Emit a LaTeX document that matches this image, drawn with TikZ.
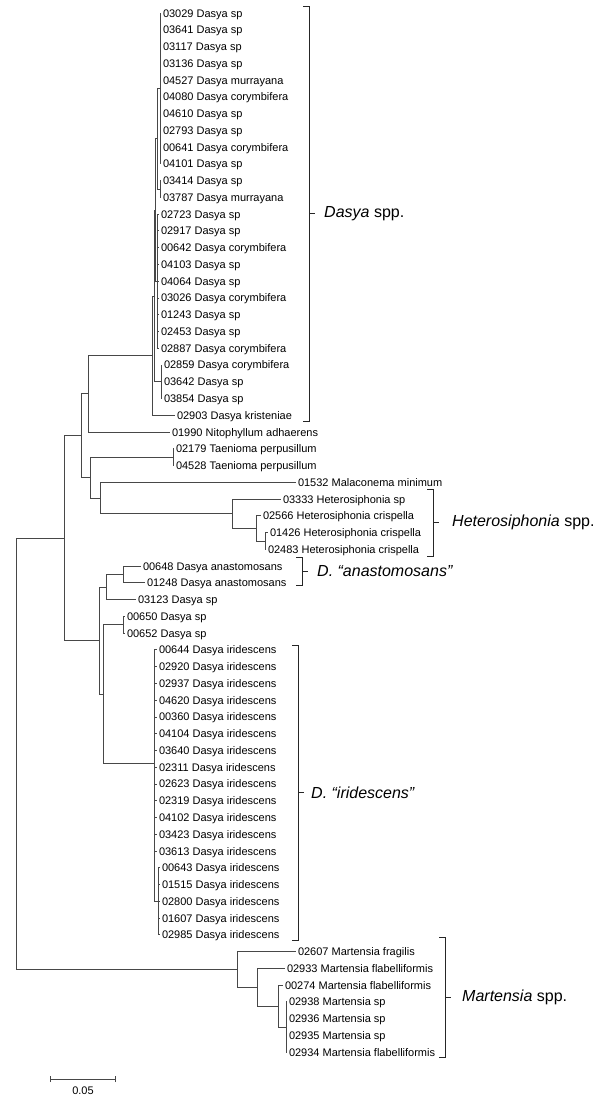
\documentclass[tikz,border=0pt]{standalone}
\usepackage{fontspec}
\setmainfont{Liberation Sans}
\begin{document}
\begin{tikzpicture}[x=1pt,y=-1pt,
  leaf/.style={anchor=west,inner sep=0pt,outer xsep=2pt,text height=8pt,text depth=0pt,font=\fontsize{11}{13}\selectfont},
  branch/.style={draw=black!72,line width=0.8pt},
  brk/.style={draw=black!85,line width=0.8pt},
  clade/.style={anchor=west,inner sep=0pt,font=\fontsize{16}{19}\selectfont}]
\useasboundingbox (0,0) rectangle (600,1100);
% leaves
\foreach \i/\x/\t in {
 1/161/03029 Dasya sp, 2/161/03641 Dasya sp, 3/161/03117 Dasya sp, 4/161/03136 Dasya sp,
 5/161/04527 Dasya murrayana, 6/161/04080 Dasya corymbifera, 7/161/04610 Dasya sp,
 8/161/02793 Dasya sp, 9/161/00641 Dasya corymbifera, 10/161/04101 Dasya sp,
 11/161/03414 Dasya sp, 12/161/03787 Dasya murrayana,
 13/159/02723 Dasya sp, 14/159/02917 Dasya sp, 15/159/00642 Dasya corymbifera,
 16/159/04103 Dasya sp, 17/159/04064 Dasya sp, 18/159/03026 Dasya corymbifera,
 19/159/01243 Dasya sp, 20/159/02453 Dasya sp, 21/159/02887 Dasya corymbifera,
 22/162/02859 Dasya corymbifera, 23/162/03642 Dasya sp, 24/162/03854 Dasya sp,
 25/175/02903 Dasya kristeniae, 26/170/01990 Nitophyllum adhaerens,
 27/174/02179 Taenioma perpusillum, 28/174/04528 Taenioma perpusillum,
 29/296/01532 Malaconema minimum, 30/281/03333 Heterosiphonia sp,
 31/261/02566 Heterosiphonia crispella, 32/268/01426 Heterosiphonia crispella,
 33/266/02483 Heterosiphonia crispella,
 34/141/00648 Dasya anastomosans, 35/145/01248 Dasya anastomosans,
 36/136/03123 Dasya sp, 37/125/00650 Dasya sp, 38/125/00652 Dasya sp,
 39/157/00644 Dasya iridescens, 40/157/02920 Dasya iridescens, 41/157/02937 Dasya iridescens,
 42/157/04620 Dasya iridescens, 43/157/00360 Dasya iridescens, 44/157/04104 Dasya iridescens,
 45/157/03640 Dasya iridescens, 46/157/02311 Dasya iridescens, 47/157/02623 Dasya iridescens,
 48/157/02319 Dasya iridescens, 49/157/04102 Dasya iridescens, 50/157/03423 Dasya iridescens,
 51/157/03613 Dasya iridescens,
 52/160/00643 Dasya iridescens, 53/160/01515 Dasya iridescens, 54/160/02800 Dasya iridescens,
 55/160/01607 Dasya iridescens, 56/160/02985 Dasya iridescens,
 57/296/02607 Martensia fragilis, 58/285/02933 Martensia flabelliformis,
 59/283/00274 Martensia flabelliformis, 60/287/02938 Martensia sp,
 61/287/02936 Martensia sp, 62/287/02935 Martensia sp, 63/287/02934 Martensia flabelliformis}
 {\node[leaf] (l\i) at (\x,{13+16.76*(\i-1)}) {\t};}
% internal nodes
\coordinate (n1) at (160,88.4);
\coordinate (n2) at (160,189);
\coordinate (n3) at (157,138.7);
\coordinate (n4) at (157,281.2);
\coordinate (n5) at (155,210);
\coordinate (n6) at (161,381.8);
\coordinate (n7) at (154,295.9);
\coordinate (n8) at (152,355.6);
\coordinate (nC) at (88,393.8);
\coordinate (nT) at (173,457.2);
\coordinate (nJ) at (265,541);
\coordinate (nI) at (256,528.4);
\coordinate (nHet) at (232,513.8);
\coordinate (nH) at (100,498);
\coordinate (nG) at (90,477.6);
\coordinate (nB) at (81,435.7);
\coordinate (nM) at (123,574.5);
\coordinate (nL) at (106,587.1);
\coordinate (nP) at (123,624.8);
\coordinate (nQ2) at (158,901.2);
\coordinate (nQ) at (154,763);
\coordinate (nK1) at (103,693.9);
\coordinate (nK) at (99,640.5);
\coordinate (nA) at (64,538.1);
\coordinate (nN3) at (286,1027);
\coordinate (nN2) at (278,1006);
\coordinate (nN1) at (257,987.2);
\coordinate (nN) at (237,969.4);
\coordinate (root) at (16,753.7);
% branches
\foreach \c in {1,...,10} {\draw[branch] (n1) |- (l\c);}
\foreach \c in {11,12} {\draw[branch] (n2) |- (l\c);}
\foreach \c in {13,...,21} {\draw[branch] (n4) |- (l\c);}
\foreach \c in {22,23,24} {\draw[branch] (n6) |- (l\c);}
\foreach \c in {27,28} {\draw[branch] (nT) |- (l\c);}
\foreach \c in {32,33} {\draw[branch] (nJ) |- (l\c);}
\foreach \c in {34,35} {\draw[branch] (nM) |- (l\c);}
\foreach \c in {37,38} {\draw[branch] (nP) |- (l\c);}
\foreach \c in {39,...,51} {\draw[branch] (nQ) |- (l\c);}
\foreach \c in {52,...,56} {\draw[branch] (nQ2) |- (l\c);}
\foreach \c in {60,...,63} {\draw[branch] (nN3) |- (l\c);}
\foreach \p/\c in {n3/n1,n3/n2,n5/n3,n5/n4,n7/n5,n7/n6,n8/n7,n8/l25,nC/n8,nC/l26,
  nI/l31,nI/nJ,nHet/l30,nHet/nI,nH/l29,nH/nHet,nG/nT,nG/nH,nB/nC,nB/nG,
  nL/nM,nL/l36,nQ/nQ2,nK1/nP,nK1/nQ,nK/nL,nK/nK1,nA/nB,nA/nK,
  nN2/l59,nN2/nN3,nN1/l58,nN1/nN2,nN/l57,nN/nN1,root/nA,root/nN}
 {\draw[branch] (\p) |- (\c);}
% clade brackets
\coordinate (dT) at (309,6); \coordinate (dB) at (309,421); \coordinate (dM) at (309,213.5);
\draw[brk] ([xshift=-6pt]dT) -- (dT) -- (dB) -- ([xshift=-6pt]dB);
\draw[brk] (dM) -- ++(6,0);
\node[clade] (dL) at (324,213.5) {\textit{Dasya} spp.};
\coordinate (hT) at (433,489); \coordinate (hB) at (433,556); \coordinate (hM) at (433,522.5);
\draw[brk] ([xshift=-6pt]hT) -- (hT) -- (hB) -- ([xshift=-6pt]hB);
\draw[brk] (hM) -- ++(6,0);
\node[clade] (hL) at (452,522.5) {\textit{Heterosiphonia} spp.};
\coordinate (aT) at (302,557); \coordinate (aB) at (302,585); \coordinate (aM) at (302,571);
\draw[brk] ([xshift=-6pt]aT) -- (aT) -- (aB) -- ([xshift=-6pt]aB);
\draw[brk] (aM) -- ++(6,0);
\node[clade] (aL) at (317,571) {\textit{D. “anastomosans”}};
\coordinate (iT) at (298,645); \coordinate (iB) at (298,940); \coordinate (iM) at (298,792.5);
\draw[brk] ([xshift=-6pt]iT) -- (iT) -- (iB) -- ([xshift=-6pt]iB);
\draw[brk] (iM) -- ++(6,0);
\node[clade] (iL) at (311,792.5) {\textit{D. “iridescens”}};
\coordinate (mT) at (445,937); \coordinate (mB) at (445,1057); \coordinate (mM) at (445,997);
\draw[brk] ([xshift=-6pt]mT) -- (mT) -- (mB) -- ([xshift=-6pt]mB);
\draw[brk] (mM) -- ++(6,0);
\node[clade] (mL) at (462,997) {\textit{Martensia} spp.};
% scale bar
\coordinate (s1) at (50,1079); \coordinate (s2) at (115,1079);
\draw[branch] (s1) -- (s2);
\draw[branch] ([yshift=-3pt]s1) -- ([yshift=3pt]s1);
\draw[branch] ([yshift=-3pt]s2) -- ([yshift=3pt]s2);
\node[inner sep=0pt,font=\fontsize{11}{13}\selectfont] (sl) at (83,1091) {0.05};
\end{tikzpicture}
\end{document}
